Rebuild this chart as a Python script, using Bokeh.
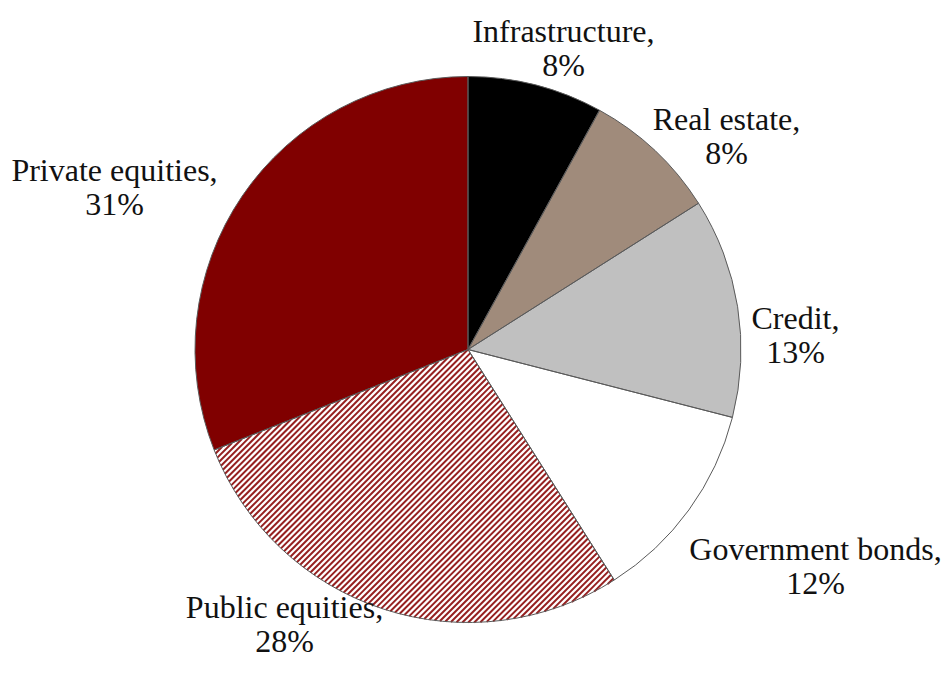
import math
from bokeh.plotting import figure
from bokeh.models import Range1d, ColumnDataSource, LabelSet
from bokeh.embed import file_html
from bokeh.resources import INLINE

# ---- data ----
categories = ["Infrastructure", "Real estate", "Credit", "Government bonds", "Public equities", "Private equities"]
shares = [8, 8, 13, 12, 28, 31]

# ---- styles ----
fill_colors = ["#000000", "#a08b7b", "#c0c0c0", "#ffffff", "#ffffff", "#800000"]
hatched = [False, False, False, False, True, False]
hatch_color = "#962020"
hatch_spacing = 4.2      # perpendicular spacing, px
hatch_width = 2.0

W, H = 950, 683
cx, cy = 467.5, H - 349.0
R = 273.0

# label centres (pixel coordinates, y from top)
label_px = [(563, 47), (726, 135), (795, 334), (815, 565), (284, 623), (114, 186)]
line_gap = 34.0

total = float(sum(shares))
starts, ends = [], []
cum = 0.0
for s in shares:
    starts.append(math.pi / 2 - 2 * math.pi * cum / total)
    cum += s
    ends.append(math.pi / 2 - 2 * math.pi * cum / total)

src = ColumnDataSource(dict(
    x=[cx] * len(shares), y=[cy] * len(shares),
    start=starts, end=ends, color=fill_colors,
))

p = figure(width=W, height=H, output_backend="svg", toolbar_location=None,
           x_range=Range1d(0, W), y_range=Range1d(0, H),
           min_border=0, min_border_left=0, min_border_right=0,
           min_border_top=0, min_border_bottom=0)
p.axis.visible = False
p.grid.visible = False
p.outline_line_color = None

# labels first, on the overlay layer (separate drawing context)
name_src = ColumnDataSource(dict(
    x=[lx for lx, ly in label_px],
    y=[H - (ly - line_gap / 2) for lx, ly in label_px],
    text=[f"{c}," for c in categories]))
pct_src = ColumnDataSource(dict(
    x=[lx for lx, ly in label_px],
    y=[H - (ly + line_gap / 2) for lx, ly in label_px],
    text=[f"{v}%" for v in shares]))
for s in (name_src, pct_src):
    p.add_layout(LabelSet(x="x", y="y", text="text", source=s, level="overlay",
                          text_font="Liberation Serif", text_font_size="32px",
                          text_color="#111111", text_align="center",
                          text_baseline="middle"))

# fills
p.wedge(x="x", y="y", radius=R, start_angle="start", end_angle="end",
        direction="clock", source=src, fill_color="color", line_color=None)

# diagonal hatch lines clipped to hatched sectors (convex, < 180 deg)
def cross(a, b):
    return a[0] * b[1] - a[1] * b[0]

x0s, y0s, x1s, y1s = [], [], [], []
d = (1 / math.sqrt(2), 1 / math.sqrt(2))
n = (1 / math.sqrt(2), -1 / math.sqrt(2))
for i, h in enumerate(hatched):
    if not h:
        continue
    a_hi, a_lo = starts[i], ends[i]   # counter-clockwise from a_lo to a_hi
    u_lo = (math.cos(a_lo), math.sin(a_lo))
    u_hi = (math.cos(a_hi), math.sin(a_hi))
    k = -R
    while k <= R:
        half = math.sqrt(max(R * R - k * k, 0.0))
        tmin, tmax = -half, half
        base = (k * n[0], k * n[1])
        for (aa, bb) in [(cross(u_lo, base), cross(u_lo, d)),
                         (cross(base, u_hi), cross(d, u_hi))]:
            if abs(bb) < 1e-12:
                if aa < 0:
                    tmin, tmax = 1, 0
            elif bb > 0:
                tmin = max(tmin, -aa / bb)
            else:
                tmax = min(tmax, -aa / bb)
        if tmax > tmin:
            x0s.append(cx + base[0] + tmin * d[0]); y0s.append(cy + base[1] + tmin * d[1])
            x1s.append(cx + base[0] + tmax * d[0]); y1s.append(cy + base[1] + tmax * d[1])
        k += hatch_spacing

p.segment(x0=x0s, y0=y0s, x1=x1s, y1=y1s, line_color=hatch_color,
          line_width=hatch_width, line_cap="butt")

# outlines
p.wedge(x="x", y="y", radius=R, start_angle="start", end_angle="end",
        direction="clock", source=src, fill_color=None,
        line_color="#5a5a5a", line_width=1)

open("out.html", "w").write(file_html(p, INLINE))
